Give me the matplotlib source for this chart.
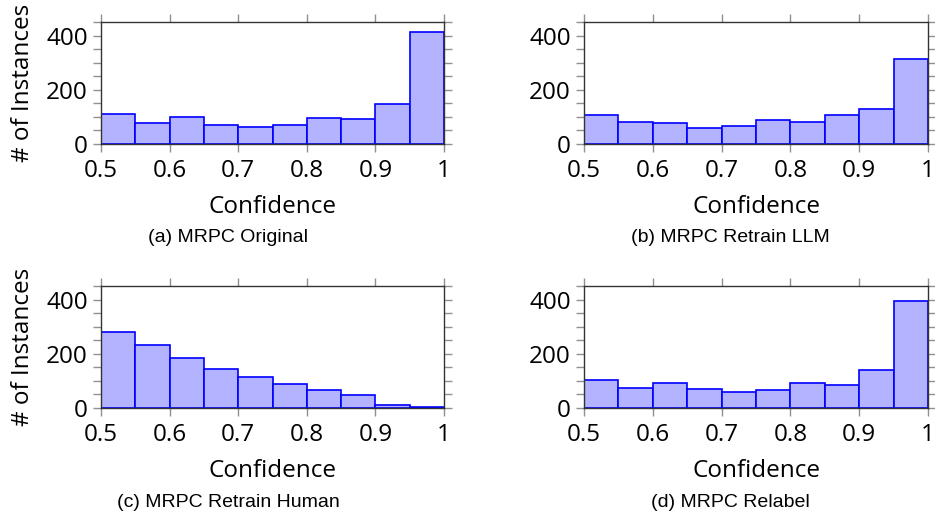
import numpy as np
import matplotlib.pyplot as plt

# bin edges of the confidence histogram
bin_edges = [0.5, 0.55, 0.6, 0.65, 0.7, 0.75, 0.8, 0.85, 0.9, 0.95, 1.0]

# counts per bin
counts_original = [110, 78, 99, 72, 63, 70, 97, 91, 147, 413]
counts_retrain_llm = [107, 83, 77, 61, 67, 88, 83, 108, 131, 312]
counts_retrain_human = [282, 231, 186, 144, 114, 88, 66, 49, 10, 2]
counts_relabel = [104, 74, 94, 70, 59, 66, 92, 86, 140, 394]

captions = ['(a) MRPC Original', '(b) MRPC Retrain LLM',
            '(c) MRPC Retrain Human', '(d) MRPC Relabel']
x_ticks = [0.5, 0.6, 0.7, 0.8, 0.9, 1.0]
x_ticklabels = ['0.5', '0.6', '0.7', '0.8', '0.9', '1']

plt.rcParams['font.family'] = ['Open Sans', 'DejaVu Sans']

fig = plt.figure(figsize=(9.35, 5.2), dpi=100)

panels = [
    (counts_original, [0.108, 0.723, 0.367, 0.2346], True, 228, 0.544),
    (counts_retrain_llm, [0.6246, 0.723, 0.368, 0.2346], False, 730, 0.544),
    (counts_retrain_human, [0.108, 0.2154, 0.367, 0.2346], True, 228, 0.033),
    (counts_relabel, [0.6246, 0.2154, 0.368, 0.2346], False, 730, 0.033),
]

edges = np.array(bin_edges)
for (counts, rect, ylab, cap_x, cap_y), cap in zip(panels, captions):
    ax = fig.add_axes(rect)
    ax.bar(edges[:-1], counts, width=np.diff(edges), align='edge',
           facecolor='#b3b3ff', edgecolor='#0000ff', linewidth=1.2, zorder=2)
    ax.set_xlim(0.5, 1.0)
    ax.set_ylim(0, 450)
    ax.set_xticks(x_ticks)
    ax.set_xticklabels(x_ticklabels)
    ax.set_yticks([0, 200, 400])
    ax.set_yticks(np.arange(0, 451, 50), minor=True)
    ax.tick_params(axis='both', which='both', direction='out', color='#909090',
                   length=5.5, width=1, labelsize=17.5, top=True, right=True)
    ax.tick_params(axis='x', pad=5)
    ax.tick_params(axis='y', pad=4)
    for s in ax.spines.values():
        s.set_color('#333333')
        s.set_linewidth(1)
    ax.set_xlabel('Confidence', fontsize=17.5, labelpad=9)
    if ylab:
        ax.set_ylabel('# of Instances', fontsize=17.5, labelpad=8)
    fig.text(cap_x / 935, cap_y, cap, ha='center', va='center',
             fontsize=14, family='Liberation Sans')

fig.savefig('out.png', dpi=100)
